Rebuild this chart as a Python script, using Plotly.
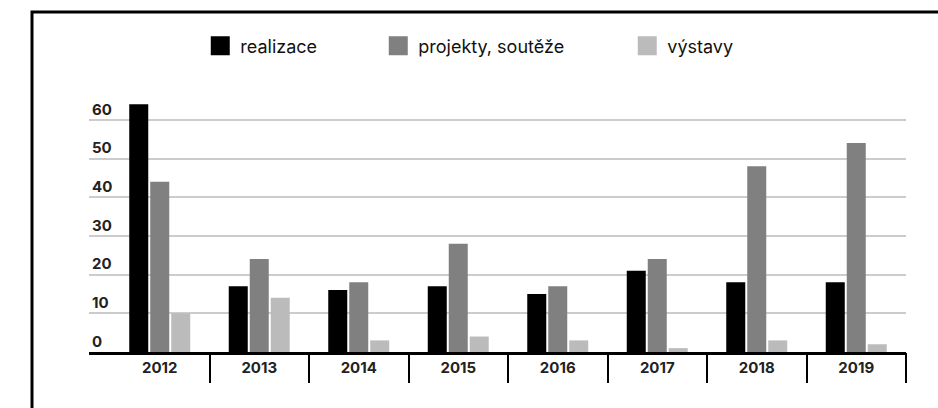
import plotly.graph_objects as go

years = ["2012", "2013", "2014", "2015", "2016", "2017", "2018", "2019"]
realizace = [64, 17, 16, 17, 15, 21, 18, 18]
projekty = [44, 24, 18, 28, 17, 24, 48, 54]
vystavy = [10, 14, 3, 4, 3, 1, 3, 2]

series_names = ["realizace", "projekty, soutěže", "výstavy"]
series_colors = ["#000000", "#808080", "#bbbbbb"]
series_values = [realizace, projekty, vystavy]
legend_widths = [133, 204, None]

y_ticks = [0, 10, 20, 30, 40, 50, 60]

FONT = "Inter"

fig = go.Figure()
for name, color, vals in zip(series_names, series_colors, series_values):
    fig.add_trace(go.Bar(x=years, y=vals, name=name, marker=dict(color=color, line=dict(width=0)),
                         showlegend=False))

for name, color, lw in zip(series_names, series_colors, legend_widths):
    kw = {}
    if lw is not None:
        kw["legendwidth"] = lw
    fig.add_trace(go.Scatter(x=[None], y=[None], mode="markers", name=name,
                             xaxis="x2", yaxis="y",
                             marker=dict(symbol="square", size=16, color=color,
                                         line=dict(width=3, color=color)),
                             showlegend=True, hoverinfo="skip", **kw))

n = len(years)
x_range = [-0.711, n - 0.5]

fig.update_layout(
    width=938, height=408,
    margin=dict(l=89, r=32, t=80, b=56),
    paper_bgcolor="white", plot_bgcolor="white",
    font=dict(family=FONT, color="#111111"),
    barmode="group", bargap=0.367, bargroupgap=0.095,
    showlegend=True,
    legend=dict(orientation="h", xref="container", yref="container",
                x=0.2135, y=0.9325, xanchor="left", yanchor="top",
                font=dict(size=18, family=FONT, color="#111111"),
                bgcolor="rgba(0,0,0,0)"),
    xaxis=dict(type="category", range=x_range, ticks="", showgrid=False,
               showline=True, linecolor="black", linewidth=3,
               tickfont=dict(size=15, family=FONT, color="#222222", weight="bold"),
               fixedrange=True),
    xaxis2=dict(type="linear", overlaying="x", anchor="y", side="bottom",
                range=x_range, tickmode="array",
                tickvals=[i - 0.5 for i in range(n + 1)],
                ticks="outside", ticklen=30, tickwidth=2, tickcolor="black",
                showticklabels=False, showgrid=False, showline=False, zeroline=False),
    yaxis=dict(range=[0, (352 - 80) / 3.87], tickvals=y_ticks, showgrid=True,
               gridcolor="#cccccc", gridwidth=2, zeroline=False, showline=False,
               ticks="", ticklabelposition="inside top",
               tickfont=dict(size=15, family=FONT, color="#222222", weight="bold")),
    shapes=[dict(type="rect", xref="paper", yref="paper",
                 x0=(32 - 89) / 817, x1=(960 - 89) / 817,
                 y0=(352 - 430) / 272, y1=(352 - 12) / 272,
                 line=dict(color="black", width=3), fillcolor="rgba(0,0,0,0)",
                 layer="below")],
)

fig.write_html("out.html", config={"displayModeBar": False},
               post_script="document.body.style.margin='0';")
